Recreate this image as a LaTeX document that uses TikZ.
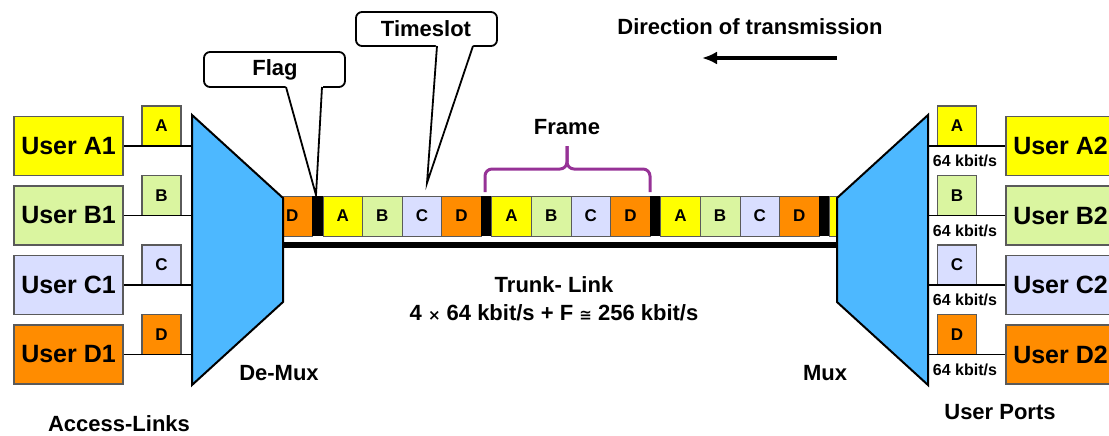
\documentclass[tikz,border=0pt]{standalone}
\usepackage{fontspec}
\setmainfont{Liberation Sans}
\newfontfamily\dejavu{DejaVu Sans}
\usetikzlibrary{arrows.meta}
\definecolor{cyel}{RGB}{255,255,0}
\definecolor{cgrn}{RGB}{218,245,160}
\definecolor{clav}{RGB}{217,222,255}
\definecolor{corg}{RGB}{255,140,0}
\definecolor{cblu}{RGB}{77,184,255}
\definecolor{cpur}{RGB}{150,50,150}
\definecolor{cbord}{RGB}{90,90,90}
\begin{document}
\begin{tikzpicture}[x=1pt,y=-1pt,
 userbox/.style={draw=cbord,line width=1.2pt,minimum width=109pt,minimum height=59pt,inner sep=0pt,font=\fontsize{25}{30}\selectfont\bfseries},
 letterbox/.style={draw=cbord,line width=1.2pt,minimum width=39pt,minimum height=40pt,inner sep=0pt,font=\fontsize{17}{20}\selectfont\bfseries},
 slotbox/.style={draw=cbord,line width=0.8pt,minimum width=39.6pt,minimum height=40pt,inner sep=0pt,font=\fontsize{17}{20}\selectfont\bfseries},
 flagbox/.style={fill=black,minimum width=10.5pt,minimum height=40pt,inner sep=0pt},
 lbl/.style={font=\fontsize{22}{26}\selectfont\bfseries,inner sep=0pt},
 rate/.style={font=\fontsize{16}{18}\selectfont\bfseries,inner sep=0pt},
 wire/.style={line width=1.5pt},
 callout/.style={draw=black,line width=1.8pt,fill=white,rounded corners=6pt},
 muxshape/.style={fill=cblu,draw=black,line width=2pt,line join=miter},
]
\useasboundingbox (0,0) rectangle (1109,436);

% ---- trunk slot bar ----
\fill[corg,draw=cbord,line width=0.8pt] (283,196) rectangle (312,236);
\node[font=\fontsize{17}{20}\selectfont\bfseries,inner sep=0pt] (d0) at (292.2,216) {D};
\foreach \k in {0,1,2} {
  \node[flagbox, anchor=west] (f\k) at ({312+\k*168.9},216) {};
  \foreach \j/\c/\t in {0/cyel/A,1/cgrn/B,2/clav/C,3/corg/D} {
    \node[slotbox, fill=\c, anchor=west] (s\k\t) at ({322.5+\k*168.9+\j*39.6},216) {\t};
  }
}
\node[flagbox, anchor=west] (f3) at (818.7,216) {};
\fill[cyel,draw=cbord,line width=0.8pt] (829.2,196) rectangle (837,236);
\fill[black] (283,242) rectangle (837,247.5);

% ---- demux / mux ----
\draw[muxshape] (192,115) -- (283,198) -- (283,302) -- (192,385) -- cycle;
\draw[muxshape] (928,115) -- (837,198) -- (837,302) -- (928,385) -- cycle;

% ---- users ----
\foreach \r/\c/\t in {0/cyel/A,1/cgrn/B,2/clav/C,3/corg/D} {
  \pgfmathsetmacro{\yc}{146+69.5*\r}
  \node[userbox, fill=\c] (u\t1) at (68.5,\yc) {User \t1};
  \node[letterbox, fill=\c] (l\t1) at (161.5,\yc-20) {\t};
  \coordinate (dm\t) at (192,\yc);
  \draw[wire] (u\t1.east) -- (dm\t);
  \node[userbox, fill=\c] (u\t2) at (1060.5,\yc) {User \t2};
  \node[letterbox, fill=\c] (l\t2) at (957,\yc-20) {\t};
  \coordinate (mx\t) at (928,\yc);
  \draw[wire] (mx\t) -- (u\t2.west);
  \node[rate] (r\t) at (965,\yc+15) {64 kbit/s};
}

% ---- callouts ----
\draw[callout] (204,52) rectangle (345,87);
\fill[white] (285,84) -- (323,84) -- (316,195) -- cycle;
\draw[line width=1.8pt,line join=miter] (286,87) -- (316,195) -- (322,87);
\node[lbl] (flag) at (275,70) {Flag};

\draw[callout] (356,12) rectangle (497,46);
\fill[white] (436,43) -- (474,43) -- (427,183) -- cycle;
\draw[line width=1.8pt,line join=miter] (437,46) -- (427,183) -- (473,46);
\node[lbl] (tslot) at (426,29) {Timeslot};

% ---- frame brace ----
\draw[cpur,line width=3pt,rounded corners=7pt] (485,192) -- (485,169) -- (567,169) -- (567,146);
\draw[cpur,line width=3pt,rounded corners=7pt] (650,192) -- (650,169) -- (567,169) -- (567,146);
\node[lbl] (frame) at (567,127) {Frame};

% ---- direction ----
\node[lbl] (dir) at (750,27) {Direction of transmission};
\coordinate (dirR) at (837,58);
\coordinate (dirL) at (702,58);
\draw[line width=4pt,-{Latex[length=15pt,width=13pt]}] (dirR) -- (dirL);

% ---- labels ----
\node[lbl] (trunk) at (554,285) {Trunk- Link};
\node[lbl] (rateT) at (554,313) {4 {\dejavu\fontsize{15}{15}\selectfont ×} 64 kbit/s + F {\dejavu\fontsize{15}{15}\selectfont ≅} 256 kbit/s};
\node[lbl] (demuxl) at (279,373) {De-Mux};
\node[lbl] (muxl) at (825,373) {Mux};
\node[lbl] (acc) at (119,424) {Access-Links};
\node[lbl] (ports) at (1000,412) {User Ports};
\end{tikzpicture}
\end{document}
